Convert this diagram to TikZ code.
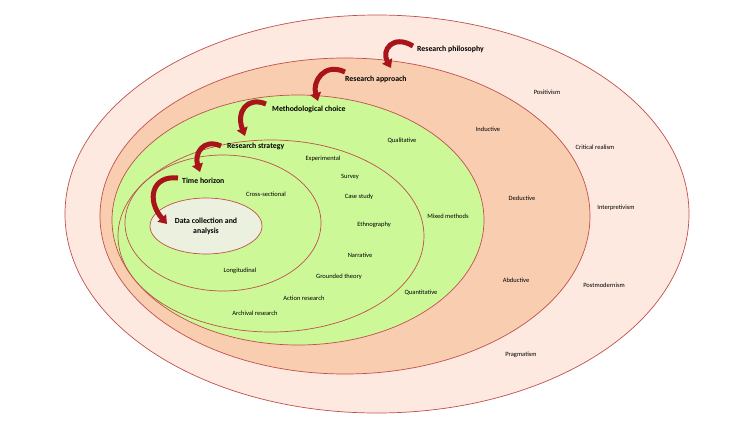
\documentclass[tikz,border=0pt]{standalone}
\usepackage{fontspec}
\setmainfont{Carlito}
\usetikzlibrary{arrows.meta}
\definecolor{bord}{HTML}{C0504D}
\definecolor{peachA}{HTML}{FDE9DF}
\definecolor{peachB}{HTML}{F9CDB0}
\definecolor{lgreen}{HTML}{CCF898}
\definecolor{lgray}{HTML}{EBF1DE}
\definecolor{arr}{HTML}{A8141A}
\tikzset{
  ring/.style={draw=bord, line width=0.7pt},
  lbl/.style={font=\fontsize{6.5}{8}\selectfont, inner sep=0pt},
  hdr/.style={font=\bfseries\fontsize{7.8}{9}\selectfont, inner sep=0pt, anchor=west},
  curlarrow/.style={draw=arr, line width=5pt, -{Triangle[length=8pt,width=11pt]}}
}
\begin{document}
\begin{tikzpicture}[x=1pt,y=-1pt]
\useasboundingbox (0,0) rectangle (732,429);
\fill[white] (0,0) rectangle (732,429);
\path[ring, fill=peachA] (377,214) ellipse [x radius=312, y radius=199];
\path[ring, fill=peachB] (345,216) ellipse [x radius=245, y radius=158];
\path[ring, fill=lgreen] (298,220) ellipse [x radius=186, y radius=125];
\path[ring, fill=lgreen] (271,236) ellipse [x radius=153, y radius=96];
\path[ring, fill=lgreen] (223,223) ellipse [x radius=98, y radius=68];
\path[ring, fill=lgray] (206,226) ellipse [x radius=56, y radius=28];

\node[lbl, align=center, font=\bfseries\fontsize{7.8}{10}\selectfont] (dc) at (206,226) {Data collection and\\analysis};

\node[hdr] (rp) at (417,49) {Research philosophy};
\node[hdr] (ra) at (345,79) {Research approach};
\node[hdr] (mc) at (272,109) {Methodological choice};
\node[hdr] (rs) at (227,146) {Research strategy};
\node[hdr] (th) at (182,181) {Time horizon};

\coordinate (t1) at (413,46); \coordinate (h1) at (391,68);
\coordinate (t2) at (345,72); \coordinate (h2) at (318,101);
\coordinate (t3) at (266,104); \coordinate (h3) at (245,136);
\coordinate (t4) at (221,146); \coordinate (h4) at (200,172);
\coordinate (t5) at (178,178); \coordinate (h5) at (167,224);
\draw[curlarrow] (t1) .. controls (393,34) and (381,50) .. (h1);
\draw[curlarrow] (t2) .. controls (324,62) and (312,82) .. (h2);
\draw[curlarrow] (t3) .. controls (247,96) and (236,112) .. (h3);
\draw[curlarrow] (t4) .. controls (203,138) and (194,154) .. (h4);
\draw[curlarrow] (t5) .. controls (152,175) and (146,200) .. (h5);

\node[lbl] (n1) at (547,92) {Positivism};
\node[lbl] (n2) at (595,147) {Critical realism};
\node[lbl] (n3) at (616,208) {Interpretivism};
\node[lbl] (n4) at (604,285) {Postmodernism};
\node[lbl] (n5) at (521,355) {Pragmatism};
\node[lbl] (n6) at (488,129) {Inductive};
\node[lbl] (n7) at (522,198) {Deductive};
\node[lbl] (n8) at (516,280) {Abductive};
\node[lbl] (n9) at (402,141) {Qualitative};
\node[lbl] (n10) at (448,216) {Mixed methods};
\node[lbl] (n11) at (421,293) {Quantitative};
\node[lbl] (n12) at (323,159) {Experimental};
\node[lbl] (n13) at (350,177) {Survey};
\node[lbl] (n14) at (359,197) {Case study};
\node[lbl] (n15) at (374,225) {Ethnography};
\node[lbl] (n16) at (360,255) {Narrative};
\node[lbl] (n17) at (339,277) {Grounded theory};
\node[lbl] (n18) at (304,298) {Action research};
\node[lbl] (n19) at (255,313) {Archival research};
\node[lbl] (n20) at (266,194) {Cross-sectional};
\node[lbl] (n21) at (240,271) {Longitudinal};
\end{tikzpicture}
\end{document}
